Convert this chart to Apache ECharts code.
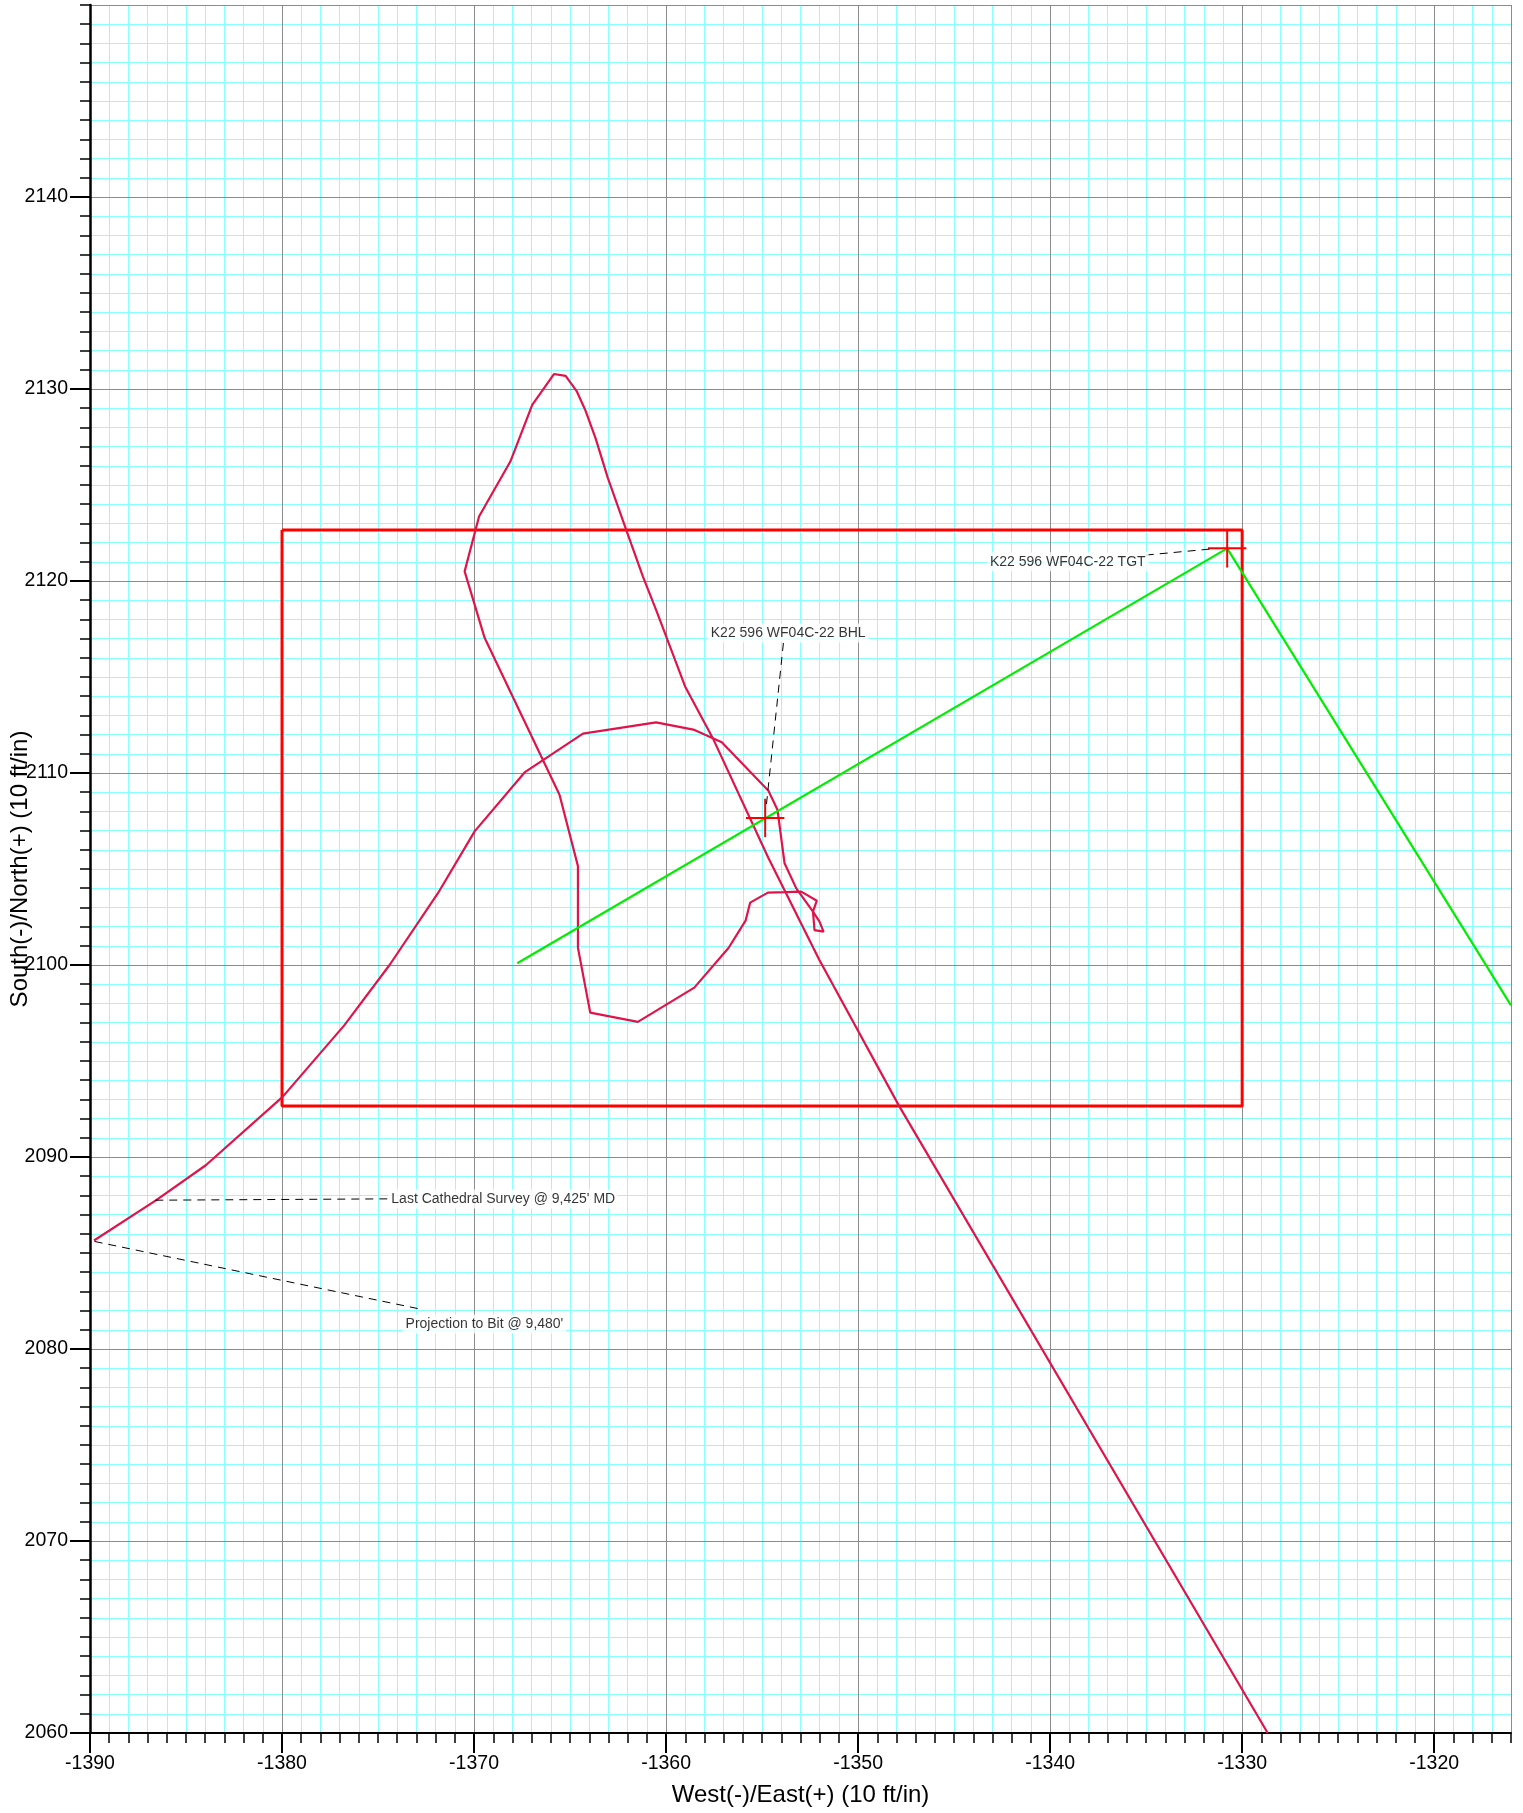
<!DOCTYPE html>
<html>
<head>
<meta charset="utf-8">
<script src="https://cdn.jsdelivr.net/npm/echarts@6/dist/echarts.min.js"></script>
<style>
html,body{margin:0;padding:0;background:#fff;}
#chart{width:1523px;height:1813px;}
</style>
</head>
<body>
<div id="chart"></div>
<script>
// ---- Data (West(-)/East(+), South(-)/North(+)) ----
const X_TICKS = [-1390, -1380, -1370, -1360, -1350, -1340, -1330, -1320];
const Y_TICKS = [2060, 2070, 2080, 2090, 2100, 2110, 2120, 2130, 2140];

// Actual well path (crimson), from the entry at the bottom edge to the bit
const WELL_EW = [-1328.67, -1347.86, -1352.03, -1354.67, -1357.53, -1359.01, -1360.49, -1361.21, -1362.08,
  -1363.03, -1363.67, -1364.21, -1364.64, -1365.23, -1365.84, -1366.97, -1368.11, -1369.74, -1370.49,
  -1369.45, -1365.55, -1364.59, -1364.59, -1363.95, -1361.47, -1358.53, -1356.74, -1355.86, -1355.62,
  -1354.70, -1352.96, -1352.15, -1352.35, -1352.27, -1351.80, -1352.01, -1352.35, -1353.22, -1353.83,
  -1354.20, -1354.67, -1357.10, -1358.58, -1360.52, -1364.33, -1367.37, -1369.97, -1371.88, -1374.40,
  -1376.75, -1379.97, -1383.97, -1386.57, -1389.79];
const WELL_NS = [2060.00, 2092.65, 2100.29, 2105.57, 2111.74, 2114.51, 2118.42, 2120.24, 2122.67,
  2125.36, 2127.43, 2128.91, 2129.86, 2130.68, 2130.78, 2129.17, 2126.22, 2123.36, 2120.50,
  2117.04, 2108.87, 2105.15, 2100.90, 2097.52, 2097.04, 2098.82, 2100.90, 2102.31, 2103.25,
  2103.77, 2103.82, 2103.35, 2102.78, 2101.82, 2101.74, 2102.26, 2102.78, 2103.99, 2105.30,
  2108.09, 2109.08, 2111.60, 2112.26, 2112.64, 2112.05, 2110.03, 2106.96, 2103.74, 2100.00,
  2096.87, 2093.13, 2089.57, 2087.74, 2085.65];

// Planned path (green)
const PLAN_EW = [-1367.75, -1330.78, -1316.00];
const PLAN_NS = [2100.09, 2121.70, 2097.90];

// Target box (red)
const BOX_EW = [-1380, -1330, -1330, -1380, -1380];
const BOX_NS = [2122.65, 2122.65, 2092.65, 2092.65, 2122.65];

// Target markers (red crosses)
const TARGET_EW = [-1354.84, -1330.78];
const TARGET_NS = [2107.66, 2121.70];

// Annotations
const NOTE_TEXT = ['K22 596 WF04C-22 BHL', 'K22 596 WF04C-22 TGT',
  "Last Cathedral Survey @ 9,425' MD", "Projection to Bit @ 9,480'"];
const NOTE_EW = [-1353.64, -1339.08, -1368.48, -1369.46];
const NOTE_NS = [2117.29, 2121.00, 2087.81, 2081.30];
// Leader lines (dashed)
const LEADER_FROM_EW = [-1353.89, -1335.02, -1386.60, -1389.76];
const LEADER_FROM_NS = [2116.77, 2121.35, 2087.75, 2085.60];
const LEADER_TO_EW = [-1354.78, -1331.70, -1374.40, -1372.90];
const LEADER_TO_NS = [2108.30, 2121.66, 2087.82, 2082.10];

const CROSS_ARM = 1;

// ---- Chart ----
const FONT = 'Liberation Sans, Arial, sans-serif';
const chart = echarts.init(document.getElementById('chart'), null, {renderer: 'canvas'});
const xr = [X_TICKS[0], -1316];
const yr = [Y_TICKS[0], 2150];
const plain = v => String(v);

const series = [];
series.push({
  type: 'line', xAxisIndex: 0, yAxisIndex: 0, showSymbol: false, silent: true, z: 3,
  data: BOX_EW.map((x, i) => [x, BOX_NS[i]]),
  lineStyle: {color: '#ff0000', width: 3}
});
series.push({
  type: 'line', xAxisIndex: 0, yAxisIndex: 0, showSymbol: false, silent: true, z: 4,
  data: WELL_EW.map((x, i) => [x, WELL_NS[i]]),
  lineStyle: {color: '#e0134a', width: 2.2}
});
series.push({
  type: 'line', xAxisIndex: 0, yAxisIndex: 0, showSymbol: false, silent: true, z: 5,
  data: PLAN_EW.map((x, i) => [x, PLAN_NS[i]]),
  lineStyle: {color: '#00ee00', width: 2.2}
});
TARGET_EW.forEach((x, i) => {
  const y = TARGET_NS[i];
  series.push({type: 'line', showSymbol: false, silent: true, z: 6,
    data: [[x - CROSS_ARM, y], [x + CROSS_ARM, y]], lineStyle: {color: '#ff0000', width: 2}});
  series.push({type: 'line', showSymbol: false, silent: true, z: 6,
    data: [[x, y - CROSS_ARM], [x, y + CROSS_ARM]], lineStyle: {color: '#ff0000', width: 2}});
});
LEADER_FROM_EW.forEach((x, i) => {
  series.push({type: 'line', showSymbol: false, silent: true, z: 6,
    data: [[x, LEADER_FROM_NS[i]], [LEADER_TO_EW[i], LEADER_TO_NS[i]]],
    lineStyle: {color: '#000', width: 1, type: [8, 6]}});
});
series.push({
  type: 'scatter', symbolSize: 0, silent: true, z: 7,
  data: NOTE_TEXT.map((t, i) => ({name: t, value: [NOTE_EW[i], NOTE_NS[i]]})),
  label: {
    show: true, position: [0, 0], align: 'center', verticalAlign: 'middle',
    formatter: p => p.name, fontSize: 14, fontFamily: FONT, color: '#000',
    backgroundColor: '#fff', padding: [3, 3, 2, 3]
  }
});

const majorX = {
  type: 'value', min: xr[0], max: xr[1], interval: 10, position: 'bottom', z: 3,
  name: 'West(-)/East(+) (10 ft/in)', nameLocation: 'middle', nameGap: 50, nameMoveOverlap: false,
  nameTextStyle: {fontSize: 24, fontFamily: FONT, color: '#000'},
  axisLine: {show: true, onZero: false, lineStyle: {color: '#000', width: 2}},
  axisTick: {show: true, length: 20, lineStyle: {color: '#000', width: 2}},
  axisLabel: {fontSize: 19.5, fontFamily: FONT, color: '#000', margin: 21, showMaxLabel: false, formatter: plain},
  splitLine: {show: true, lineStyle: {color: '#8c8c8c', width: 1}}
};
const minorX = {
  type: 'value', min: xr[0], max: xr[1], interval: 1, position: 'bottom', z: 1,
  axisLine: {show: false, onZero: false},
  axisTick: {show: true, length: 10, lineStyle: {color: '#000', width: 1.5}},
  axisLabel: {show: false},
  splitLine: {show: true, lineStyle: {color: '#8affff', width: 1}}
};
const majorY = {
  type: 'value', min: yr[0], max: yr[1], interval: 10, position: 'left', z: 3,
  name: 'South(-)/North(+) (10 ft/in)', nameLocation: 'middle', nameGap: 58, nameMoveOverlap: false,
  nameTextStyle: {fontSize: 24, fontFamily: FONT, color: '#000'},
  axisLine: {show: true, onZero: false, lineStyle: {color: '#000', width: 2.5}},
  axisTick: {show: true, length: 20, lineStyle: {color: '#000', width: 2}},
  axisLabel: {fontSize: 19.5, fontFamily: FONT, color: '#000', margin: 22, showMaxLabel: false, formatter: plain},
  splitLine: {show: true, lineStyle: {color: '#8c8c8c', width: 1}}
};
const minorY = {
  type: 'value', min: yr[0], max: yr[1], interval: 1, position: 'left', z: 1,
  axisLine: {show: false, onZero: false},
  axisTick: {show: true, length: 10, lineStyle: {color: '#000', width: 1.5}},
  axisLabel: {show: false},
  splitLine: {show: true, lineStyle: {color: '#8affff', width: 1}}
};

chart.setOption({
  animation: false,
  backgroundColor: '#fff',
  grid: {left: 90, right: 12, top: 5, bottom: 80, containLabel: false, outerBoundsMode: 'none'},
  xAxis: [majorX, minorX],
  yAxis: [majorY, minorY],
  series: series
});
</script>
</body>
</html>
